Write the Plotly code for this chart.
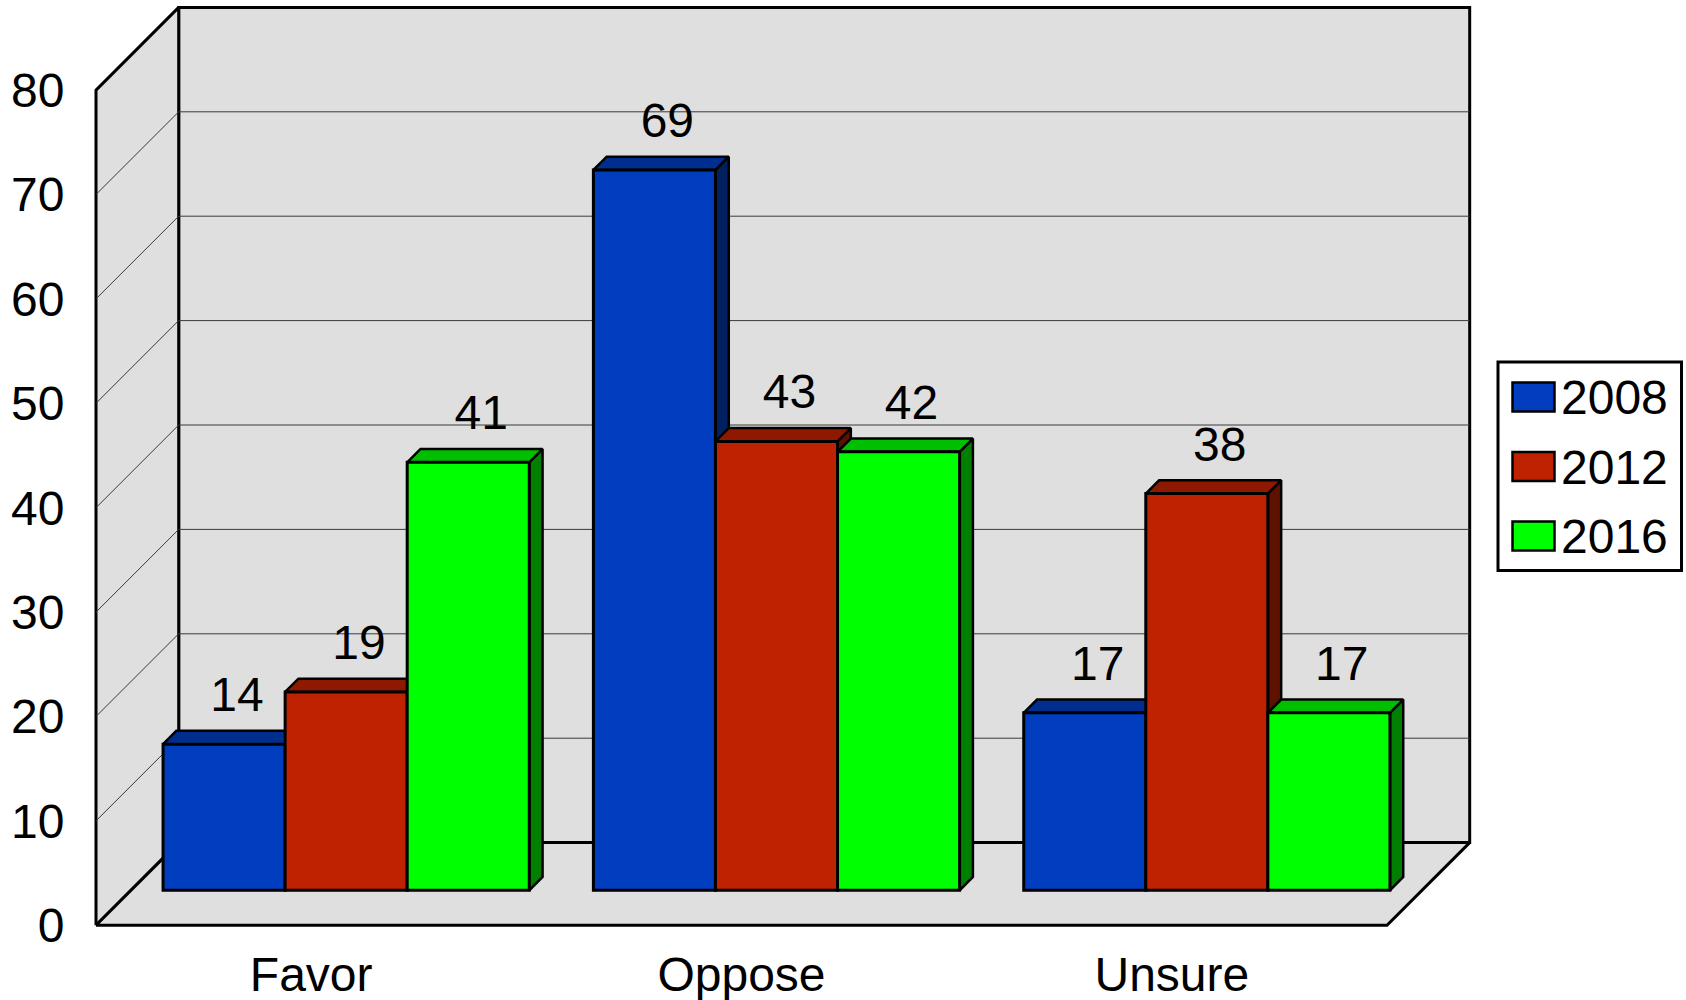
import plotly.graph_objects as go

# Chart content
categories = ["Favor", "Oppose", "Unsure"]
years = ["2008", "2012", "2016"]
values_2008 = [14, 69, 17]
values_2012 = [19, 43, 38]
values_2016 = [41, 42, 17]
y_ticks = [0, 10, 20, 30, 40, 50, 60, 70, 80]

series = [values_2008, values_2012, values_2016]
front_colors = ["#003DBF", "#BF2200", "#00FF00"]
top_colors = ["#002E8F", "#8F1900", "#00BF00"]
side_colors = ["#00205F", "#5F1100", "#007F00"]
WALL = "#DFDFDF"
FONT = "Liberation Sans"
FONT_SIZE = 48

# Page geometry in pixels
WIDTH, HEIGHT = 1686, 1000
PLOT_L, PLOT_B = 90, 930
ORIGIN_X, ORIGIN_Y = 96, 925.3
CAT_PX = 430.33
UNIT_PX = 10.44
WALL_DEPTH_PX = 82.7
BAR_SHIFT_PX = 35
BAR_DEPTH_PX = 13.3
BAR_GAP = 0.149

x_range = [-0.5 - (ORIGIN_X - PLOT_L) / CAT_PX, -0.5 + (WIDTH - ORIGIN_X) / CAT_PX]
y_range = [-(PLOT_B - ORIGIN_Y) / UNIT_PX, ORIGIN_Y / UNIT_PX]
x_bar_range = [v - BAR_SHIFT_PX / CAT_PX for v in x_range]
y_bar_range = [v - BAR_SHIFT_PX / UNIT_PX for v in y_range]

wall_dx = WALL_DEPTH_PX / CAT_PX
wall_dy = WALL_DEPTH_PX / UNIT_PX
bar_dx = BAR_DEPTH_PX / CAT_PX
bar_dy = BAR_DEPTH_PX / UNIT_PX
bar_width = (1 - BAR_GAP) / len(series)

x_lo, x_hi = -0.5, 2.5
y_top = y_ticks[-1]

fig = go.Figure()


def polygon(xs, ys, fill, axes=("x", "y"), line_width=3):
    fig.add_trace(go.Scatter(
        x=xs + xs[:1], y=ys + ys[:1], mode="lines", fill="toself", fillcolor=fill,
        line=dict(color="black", width=line_width), hoverinfo="skip", showlegend=False,
        xaxis=axes[0], yaxis=axes[1],
    ))


# Chart box: back wall, left wall and floor
polygon([x_lo + wall_dx, x_hi + wall_dx, x_hi + wall_dx, x_lo + wall_dx],
        [wall_dy, wall_dy, y_top + wall_dy, y_top + wall_dy], WALL)
polygon([x_lo, x_lo + wall_dx, x_lo + wall_dx, x_lo],
        [0, wall_dy, y_top + wall_dy, y_top], WALL)
polygon([x_lo, x_hi, x_hi + wall_dx, x_lo + wall_dx],
        [0, 0, wall_dy, wall_dy], WALL)

# Gridlines run along the left wall and across the back wall
grid_x, grid_y = [], []
for tick in y_ticks[1:-1]:
    grid_x += [x_lo, x_lo + wall_dx, x_hi + wall_dx, None]
    grid_y += [tick, tick + wall_dy, tick + wall_dy, None]
fig.add_trace(go.Scatter(
    x=grid_x, y=grid_y, mode="lines", line=dict(color="#3A3A3A", width=1),
    hoverinfo="skip", showlegend=False,
))

# Top and side faces of each bar sit below the front faces, left to right
for c in range(len(categories)):
    for s, values in enumerate(series):
        left = c + (s - 1.5) * bar_width
        right = left + bar_width
        v = values[c]
        polygon([right, right + bar_dx, right + bar_dx, right],
                [0, bar_dy, v + bar_dy, v], side_colors[s], ("x2", "y2"), 2.5)
        polygon([left, right, right + bar_dx, left + bar_dx],
                [v, v, v + bar_dy, v + bar_dy], top_colors[s], ("x2", "y2"), 2.5)

# Front faces
for s, values in enumerate(series):
    fig.add_trace(go.Bar(
        x=list(range(len(categories))), y=values, name=years[s], xaxis="x3", yaxis="y3",
        marker=dict(color=front_colors[s], line=dict(color="black", width=3)),
        showlegend=False, hovertemplate="%{y}<extra>" + years[s] + "</extra>",
    ))

# Value labels above the back edge of each bar's top
LABEL_LIFT = 45 / UNIT_PX
for s, values in enumerate(series):
    fig.add_trace(go.Scatter(
        x=[c + (s - 1) * bar_width + bar_dx * 0.97 for c in range(len(categories))],
        y=[v + LABEL_LIFT for v in values],
        text=[str(v) for v in values], mode="text", textposition="middle center",
        textfont=dict(family=FONT, size=FONT_SIZE, color="black"),
        hoverinfo="skip", showlegend=False, xaxis="x3", yaxis="y3",
    ))


# Legend box built from paper-referenced shapes and text
def paper_x(px):
    return (px - PLOT_L) / (WIDTH - PLOT_L)


def paper_y(px):
    return (PLOT_B - px) / PLOT_B


shapes = [dict(type="rect", xref="paper", yref="paper",
               x0=paper_x(1498), x1=paper_x(1681.5), y0=paper_y(570.5), y1=paper_y(362),
               fillcolor="white", line=dict(color="black", width=3))]
annotations = []
for s, (key_top, key_bottom, text_mid) in enumerate([(382.5, 411.5, 397.5), (452, 481, 467), (521.5, 550.5, 536)]):
    shapes.append(dict(type="rect", xref="paper", yref="paper",
                       x0=paper_x(1512.5), x1=paper_x(1554.5), y0=paper_y(key_bottom), y1=paper_y(key_top),
                       fillcolor=front_colors[s], line=dict(color="black", width=2.5)))
    annotations.append(dict(text=years[s], xref="paper", yref="paper", x=paper_x(1558.5), y=paper_y(text_mid),
                            xanchor="left", yanchor="middle", showarrow=False,
                            font=dict(family=FONT, size=FONT_SIZE, color="black")))

hidden = dict(visible=False, showgrid=False, zeroline=False, fixedrange=True, automargin=False)
fig.update_layout(
    width=WIDTH, height=HEIGHT,
    margin=dict(l=PLOT_L, r=0, t=0, b=HEIGHT - PLOT_B, pad=0, autoexpand=False),
    paper_bgcolor="white", plot_bgcolor="rgba(0,0,0,0)",
    barmode="group", bargap=BAR_GAP, bargroupgap=0,
    showlegend=False, shapes=shapes, annotations=annotations,
    font=dict(family=FONT, size=FONT_SIZE, color="black"),
    xaxis=dict(range=x_range, tickmode="array", tickvals=list(range(len(categories))), ticktext=categories,
               showgrid=False, zeroline=False, showline=False, ticks="outside", ticklen=2, automargin=False,
               tickcolor="rgba(0,0,0,0)", fixedrange=True, tickfont=dict(family=FONT, size=FONT_SIZE)),
    yaxis=dict(range=y_range, tickmode="array", tickvals=y_ticks, ticktext=[str(t) for t in y_ticks],
               showgrid=False, zeroline=False, showline=False, ticks="outside", ticklen=15, automargin=False,
               tickcolor="rgba(0,0,0,0)", fixedrange=True, tickfont=dict(family=FONT, size=FONT_SIZE)),
    xaxis2=dict(range=x_bar_range, overlaying="x", anchor="y2", **hidden),
    yaxis2=dict(range=y_bar_range, overlaying="y", anchor="x2", **hidden),
    xaxis3=dict(range=x_bar_range, overlaying="x", anchor="y3", **hidden),
    yaxis3=dict(range=y_bar_range, overlaying="y", anchor="x3", **hidden),
)

fig.write_html("out.html")
